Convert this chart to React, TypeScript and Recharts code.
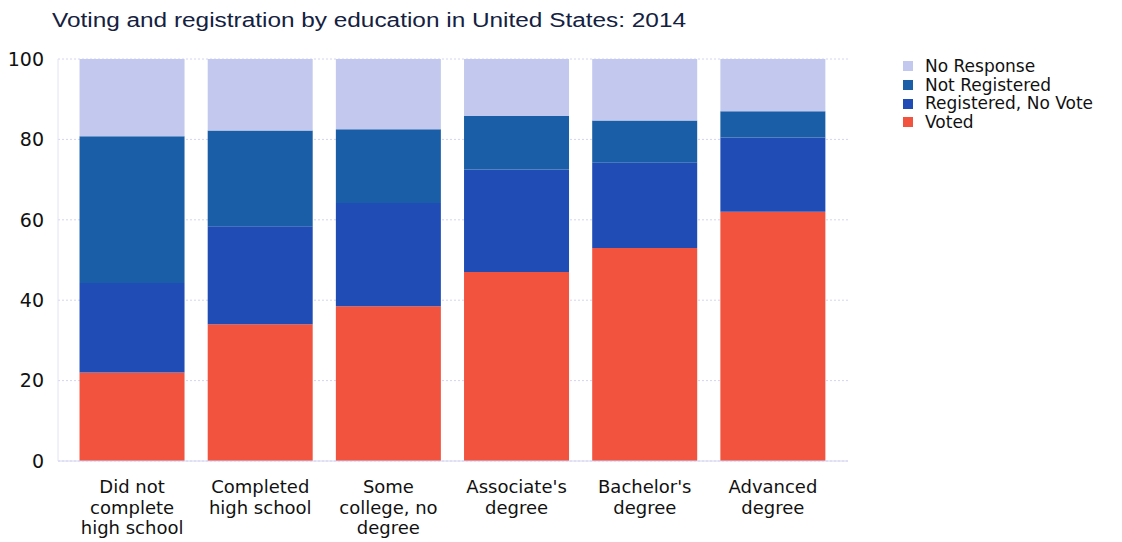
import React from 'react'
import { BarChart, Bar, XAxis, YAxis, CartesianGrid } from 'recharts'

const categories = [
  'Did not\ncomplete\nhigh school',
  'Completed\nhigh school',
  'Some\ncollege, no\ndegree',
  "Associate's\ndegree",
  "Bachelor's\ndegree",
  'Advanced\ndegree',
]
const voted = [22, 34, 38.5, 47, 53, 62]
const registeredNoVote = [22.3, 24.4, 25.7, 25.5, 21.2, 18.5]
const notRegistered = [36.5, 23.8, 18.3, 13.3, 10.5, 6.5]
const noResponse = [19.2, 17.8, 17.5, 14.2, 15.3, 13]
const yTicks = [0, 20, 40, 60, 80, 100]

const series = [
  { key: 'voted', name: 'Voted', color: '#f2533f', values: voted },
  { key: 'regNoVote', name: 'Registered, No Vote', color: '#1f4db5', values: registeredNoVote },
  { key: 'notReg', name: 'Not Registered', color: '#1a5ea8', values: notRegistered },
  { key: 'noResp', name: 'No Response', color: '#c3c9ee', values: noResponse },
]

const data = categories.map((name, i) => {
  const row: Record<string, number | string> = { name }
  series.forEach((s) => {
    row[s.key] = s.values[i]
  })
  return row
})

const FONT = '"DejaVu Sans", Verdana, sans-serif'

function XTick({ x, y, payload }: any) {
  const lines = String(payload.value).split('\n')
  return (
    <text x={x} y={y + 24} textAnchor="middle" fontFamily={FONT} fontSize={18} fill="#111">
      {lines.map((l, i) => (
        <tspan key={i} x={x} dy={i === 0 ? 0 : 20.5}>
          {l}
        </tspan>
      ))}
    </text>
  )
}

function LegendBox() {
  const items = [...series].reverse()
  return (
    <div
      style={{
        position: 'absolute',
        left: 903,
        top: 57,
        fontFamily: FONT,
        fontSize: 17,
        color: '#111',
        lineHeight: '18.7px',
      }}
    >
      {items.map((s) => (
        <div key={s.key} style={{ display: 'flex', alignItems: 'center' }}>
          <span
            style={{
              display: 'inline-block',
              width: 10,
              height: 10,
              background: s.color,
              marginRight: 12,
            }}
          />
          {s.name}
        </div>
      ))}
    </div>
  )
}

export default function App() {
  return (
    <div style={{ position: 'absolute', left: 0, top: 0, width: 1122, height: 542, background: '#fff' }}>
      <svg width={1122} height={40} style={{ position: 'absolute', left: 0, top: 0 }}>
        <text
          x={52}
          y={27}
          textLength={634}
          lengthAdjust="spacingAndGlyphs"
          fontFamily='"Liberation Sans", Arial, sans-serif'
          fontSize={20}
          fill="#14213f"
        >
          Voting and registration by education in United States: 2014
        </text>
      </svg>
      <LegendBox />
      <div style={{ position: 'absolute', left: 0, top: 0 }}>
        <BarChart
          width={1122}
          height={542}
          data={data}
          margin={{ top: 59, right: 274, left: 0, bottom: 0 }}
          barCategoryGap="9%"
        >
          <CartesianGrid stroke="#d4d4f2" strokeDasharray="2 2" vertical={false} />
          <XAxis
            dataKey="name"
            interval={0}
            tick={<XTick />}
            tickLine={false}
            axisLine={{ stroke: '#d4d4f2' }}
            padding={{ left: 10, right: 11 }}
            height={81}
          />
          <YAxis
            width={58}
            domain={[0, 100]}
            ticks={yTicks}
            tickLine={false}
            axisLine={{ stroke: '#e2e2f4' }}
            tick={{ fontFamily: FONT, fontSize: 19, fill: '#111' }}
            tickMargin={8}
          />
          {series.map((s) => (
            <Bar key={s.key} dataKey={s.key} name={s.name} stackId="a" fill={s.color} isAnimationActive={false} />
          ))}
        </BarChart>
      </div>
    </div>
  )
}
